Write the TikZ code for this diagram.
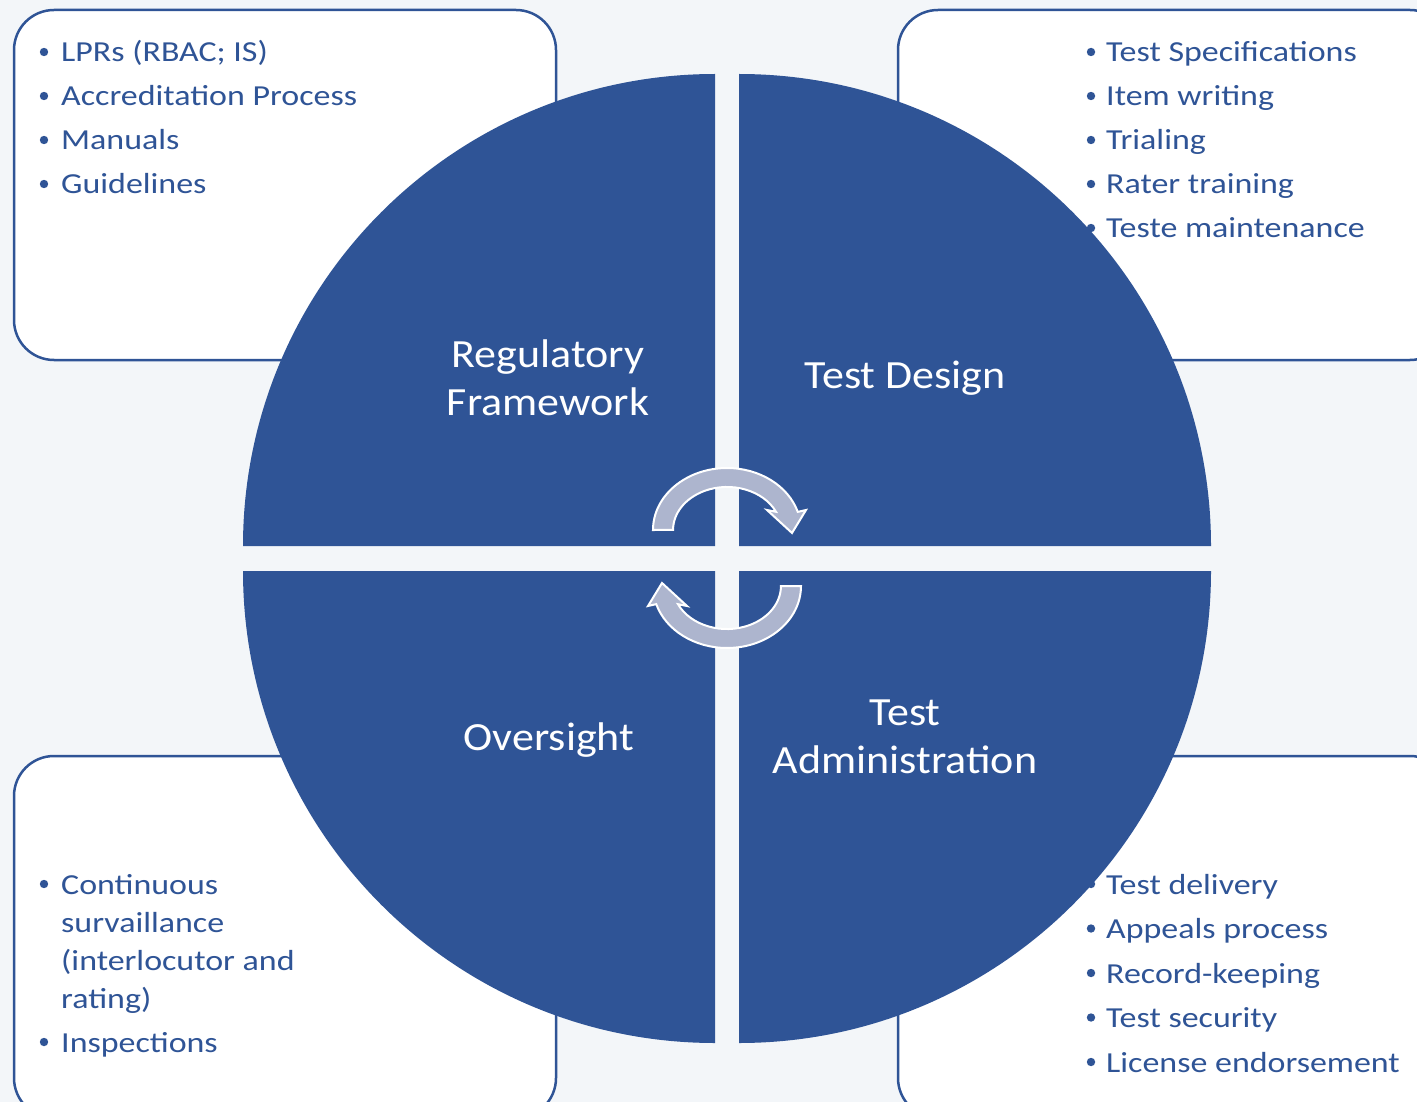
\documentclass[tikz,border=0pt]{standalone}
\usepackage{fontspec}
\setmainfont{Carlito}
\newfontfamily\itemfont[FakeStretch=1.17]{Carlito}
\newfontfamily\labfont[FakeStretch=1.10]{Carlito}
\definecolor{bgc}{RGB}{243,246,249}
\definecolor{qblue}{RGB}{47,84,150}
\definecolor{arrfill}{RGB}{173,181,206}
\tikzset{
  infobox/.style={draw=qblue, fill=white, line width=2.5pt, rounded corners=40pt},
  quad/.style={fill=qblue, draw=none},
  itemtext/.style={anchor=base west, inner sep=0pt, text=qblue, font=\itemfont\fontsize{29}{35}\selectfont},
  bul/.style={fill=qblue, draw=none},
  label/.style={anchor=base, inner sep=0pt, text=white, font=\labfont\fontsize{40}{48}\selectfont},
  cycarrow/.pic={
    \path[fill=arrfill, draw=white, line width=2pt, line join=miter]
      (-74,0) arc[start angle=180, end angle=343, x radius=74, y radius=62]
      -- (79,-20) -- (65,3) -- (40,-20)
      -- (49,-18.2) arc[start angle=335, end angle=180, x radius=54, y radius=43]
      -- cycle;
  }
}
\begin{document}
\begin{tikzpicture}[x=1pt, y=-1pt]
\useasboundingbox (0,0) rectangle (1417,1102);
\clip (0,0) rectangle (1417,1102);
\fill[bgc] (0,0) rectangle (1417,1102);

% info boxes
\draw[infobox] (14,10) rectangle (556,360);
\draw[infobox] (898,10) rectangle (1450,360);
\draw[infobox] (14,756) rectangle (556,1118);
\draw[infobox] (898,756) rectangle (1450,1118);

% top-left items
\foreach \yy in {62,106,150,194} \fill[bul] (44,\yy-10) circle[radius=4.2];
\node[itemtext] (tl1) at (61,62) {LPRs (RBAC; IS)};
\node[itemtext] (tl2) at (61,106) {Accreditation Process};
\node[itemtext] (tl3) at (61,150) {Manuals};
\node[itemtext] (tl4) at (61,194) {Guidelines};

% top-right items
\foreach \yy in {62,106,150,194,238} \fill[bul] (1091,\yy-10) circle[radius=4.2];
\node[itemtext] (tr1) at (1106,62) {Test Specifications};
\node[itemtext] (tr2) at (1106,106) {Item writing};
\node[itemtext] (tr3) at (1106,150) {Trialing};
\node[itemtext] (tr4) at (1106,194) {Rater training};
\node[itemtext] (tr5) at (1106,238) {Teste maintenance};

% bottom-left items
\foreach \yy in {894,1052} \fill[bul] (44,\yy-10) circle[radius=4.2];
\node[itemtext] (bl1) at (61,894) {Continuous};
\node[itemtext] (bl2) at (61,932) {survaillance};
\node[itemtext] (bl3) at (61,970) {(interlocutor and};
\node[itemtext] (bl4) at (61,1008) {rating)};
\node[itemtext] (bl5) at (61,1052) {Inspections};

% bottom-right items
\foreach \yy in {894,938.5,983,1027.5,1072} \fill[bul] (1091,\yy-10) circle[radius=4.2];
\node[itemtext] (br1) at (1106,894) {Test delivery};
\node[itemtext] (br2) at (1106,938.5) {Appeals process};
\node[itemtext] (br3) at (1106,983) {Record-keeping};
\node[itemtext] (br4) at (1106,1027.5) {Test security};
\node[itemtext] (br5) at (1106,1072) {License endorsement};

% quadrants
\fill[quad] (715,546) -- (243,546) arc[start angle=180, end angle=270, radius=472] -- cycle;
\fill[quad] (739,546) -- (1211,546) arc[start angle=0, end angle=-90, radius=472] -- cycle;
\fill[quad] (715,571) -- (243,571) arc[start angle=180, end angle=90, radius=472] -- cycle;
\fill[quad] (739,571) -- (1211,571) arc[start angle=0, end angle=90, radius=472] -- cycle;

% quadrant labels
\node[label] (reg1) at (548,367) {Regulatory};
\node[label] (reg2) at (548,415) {Framework};
\node[label] (des) at (905,388) {Test Design};
\node[label] (ovs) at (549,750) {Oversight};
\node[label] (adm1) at (905,725) {Test};
\node[label] (adm2) at (905,773) {Administration};

% cycle arrows
\pic at (727,530) {cycarrow};
\pic[rotate=180] at (727,586) {cycarrow};
\end{tikzpicture}
\end{document}
